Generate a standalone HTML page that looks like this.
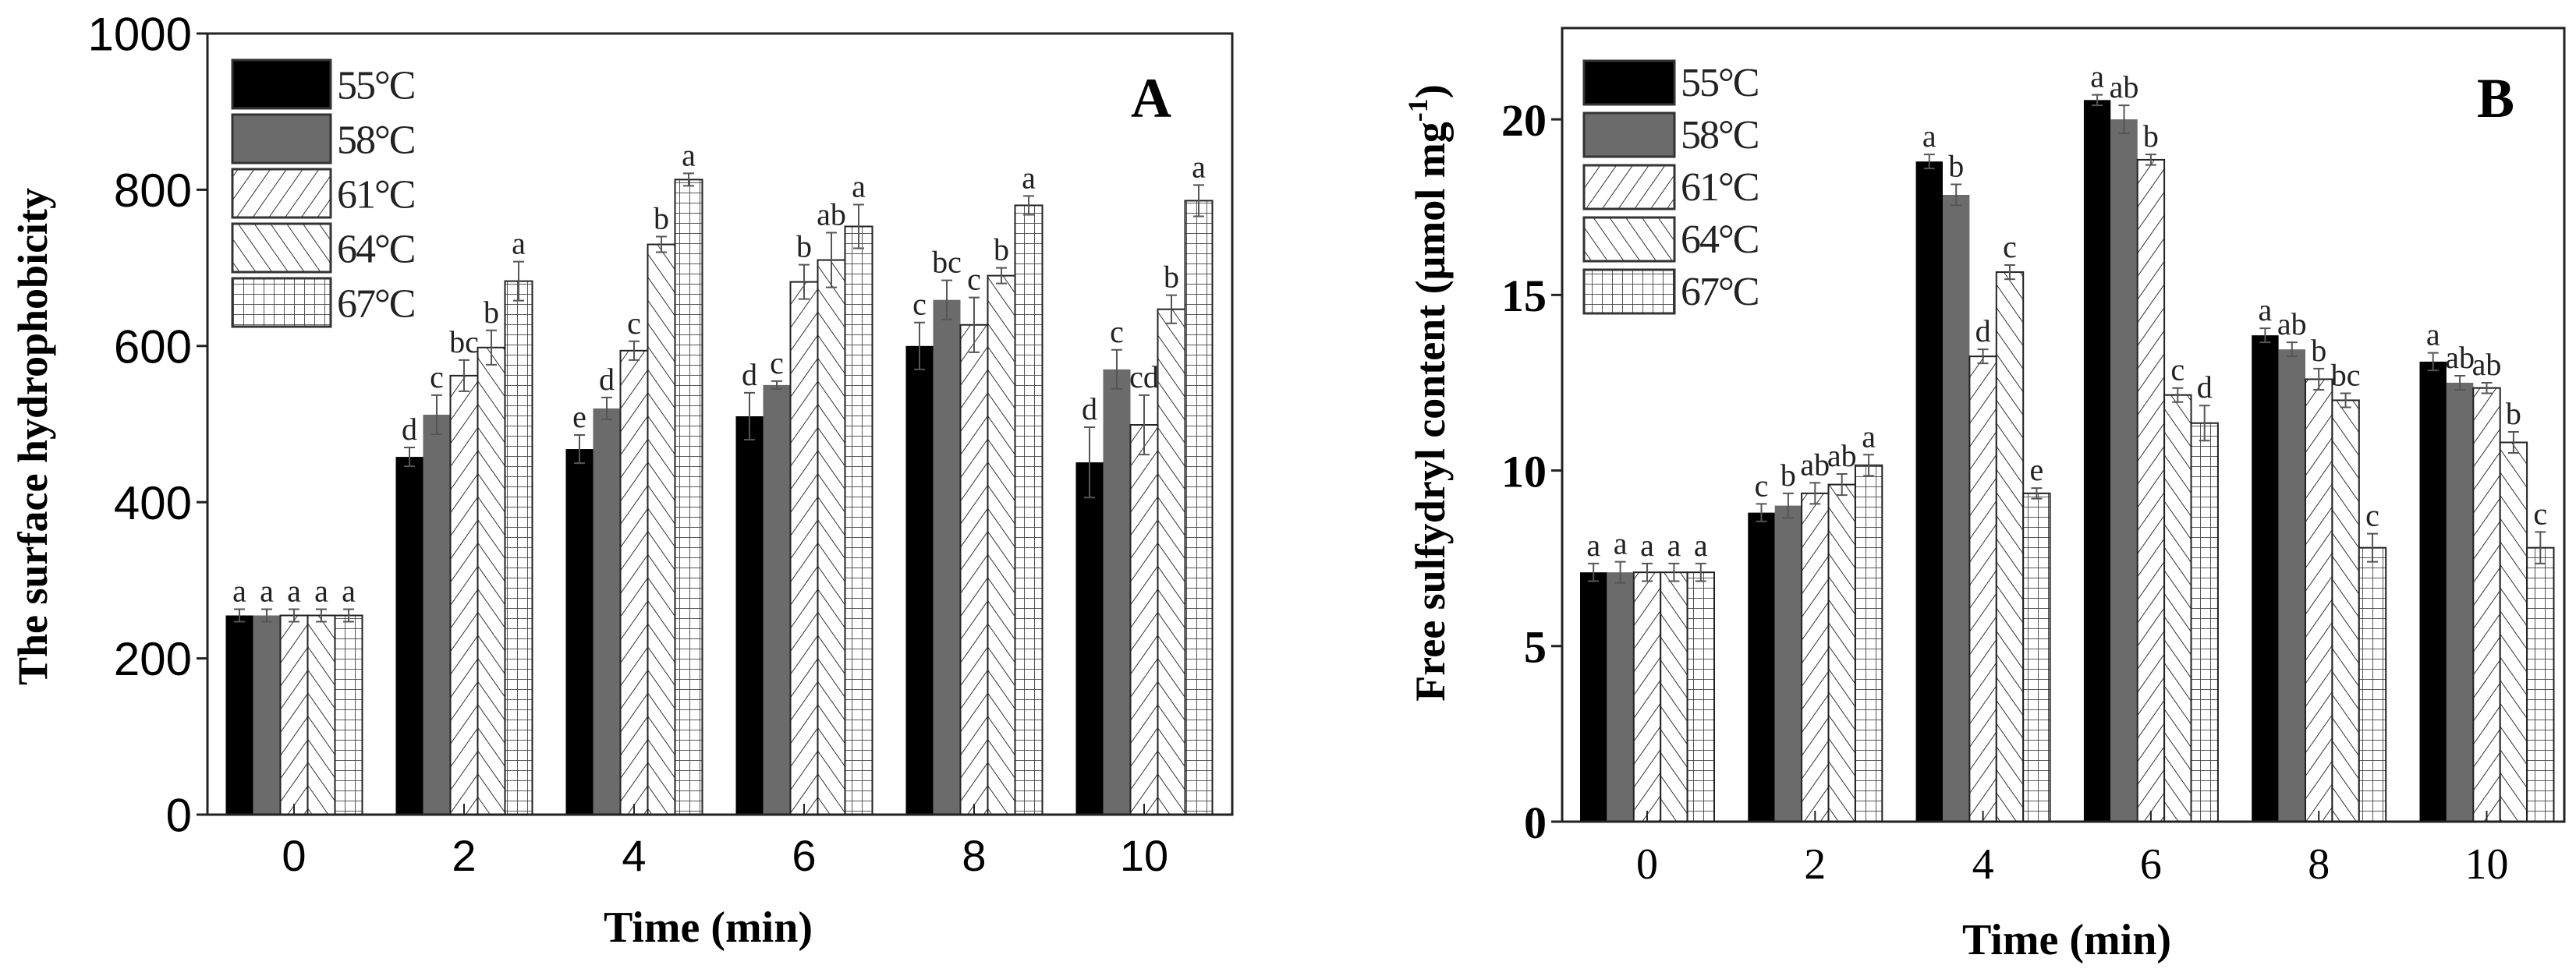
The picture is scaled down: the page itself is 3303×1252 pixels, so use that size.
<!DOCTYPE html>
<html><head><meta charset="utf-8"><style>
html,body{margin:0;padding:0;background:#fff;}
svg{display:block;}
</style></head><body>
<svg id="root" width="3303" height="1252" viewBox="0 0 3303 1252" xmlns="http://www.w3.org/2000/svg">
<defs>
<pattern id="pFwd" patternUnits="userSpaceOnUse" width="17" height="17" patternTransform="rotate(35)"><rect width="17" height="17" fill="#fff"/><line x1="0" y1="0" x2="0" y2="17" stroke="#333" stroke-width="2"/></pattern>
<pattern id="pBack" patternUnits="userSpaceOnUse" width="17" height="17" patternTransform="rotate(-35)"><rect width="17" height="17" fill="#fff"/><line x1="0" y1="0" x2="0" y2="17" stroke="#333" stroke-width="2"/></pattern>
<pattern id="pGrid" patternUnits="userSpaceOnUse" width="13" height="13"><rect width="13" height="13" fill="#fff"/><path d="M0 0H13M0 0V13" stroke="#444" stroke-width="1.8" fill="none"/></pattern>
</defs>
<g id="chartA"></g>
<g id="chartB"></g>
</svg>
<script>
const categories = ["0","2","4","6","8","10"];
const seriesNames = ["55\u00B0C","58\u00B0C","61\u00B0C","64\u00B0C","67\u00B0C"];
const aValues = [
 [255,458,468,510,600,451],
 [255,512,520,550,659,570],
 [255,562,594,682,627,499],
 [255,598,730,710,690,647],
 [255,683,813,753,780,786]];
const aErrors = [
 [8,12,18,30,30,45],
 [8,25,14,5,25,25],
 [8,20,12,22,35,38],
 [8,22,10,35,10,18],
 [8,25,8,28,12,20]];
const aLetters = [
 ["a","d","e","d","c","d"],
 ["a","c","d","c","bc","c"],
 ["a","bc","c","b","c","cd"],
 ["a","b","b","ab","b","b"],
 ["a","a","a","a","a","a"]];
const aTicks = [0,200,400,600,800,1000];
const bValues = [
 [7.1,8.8,18.8,20.55,13.85,13.1],
 [7.1,9.0,17.85,20.0,13.45,12.5],
 [7.1,9.35,13.25,18.85,12.6,12.35],
 [7.1,9.6,15.65,12.15,12.0,10.8],
 [7.1,10.15,9.35,11.35,7.8,7.8]];
const bErrors = [
 [0.25,0.25,0.2,0.15,0.2,0.25],
 [0.3,0.35,0.3,0.4,0.2,0.2],
 [0.25,0.3,0.2,0.15,0.3,0.15],
 [0.25,0.3,0.2,0.2,0.2,0.3],
 [0.25,0.3,0.15,0.5,0.4,0.45]];
const bLetters = [
 ["a","c","a","a","a","a"],
 ["a","b","b","ab","ab","ab"],
 ["a","ab","d","b","b","ab"],
 ["a","ab","c","c","bc","b"],
 ["a","a","e","d","c","c"]];
const bTicks = [0,5,10,15,20];

const NS="http://www.w3.org/2000/svg";
const fills=["#000","#6b6b6b","url(#pFwd)","url(#pBack)","url(#pGrid)"];
function mk(parent,tag,attrs,text){const e=document.createElementNS(NS,tag);for(const k in attrs)e.setAttribute(k,attrs[k]);if(text!==undefined)e.textContent=text;parent.appendChild(e);return e;}

function drawChart(g,cfg){
  const {L,R,T,B,ymax,values,errors,letters,ticks,barW,tickFont,tickWeight,serifTicks}=cfg;
  const xs=i=>cfg.c0+i*cfg.sp;
  const ys=v=>B-(v/ymax)*(B-T);
  for(let s=0;s<values.length;s++){
    for(let i=0;i<categories.length;i++){
      const v=values[s][i], x=xs(i)+(s-2.5)*barW, y=ys(v);
      const r=mk(g,'rect',{x:x,y:y,width:barW,height:B-y,fill:fills[s],stroke:s<2?fills[s]:'#222','stroke-width':s<2?0:2});
      
      
      const cx=x+barW/2, e=errors[s][i];
      const eb=mk(g,'path',{d:`M${cx} ${ys(v+e)}V${ys(v-e)}M${cx-7} ${ys(v+e)}H${cx+7}M${cx-7} ${ys(v-e)}H${cx+7}`,stroke:'#555','stroke-width':2,fill:'none'});
      
      
      const t=mk(g,'text',{x:cx,y:ys(v+e)-10,'text-anchor':'middle','font-family':'Liberation Serif, serif','font-size':40,fill:'#222'},letters[s][i]);
      
      
    }
  }
  const f=mk(g,'rect',{x:L,y:T,width:R-L,height:B-T,fill:'none',stroke:'#222','stroke-width':3});
  
  
  for(const tv of ticks){
    const y=ys(tv);
    const tl=mk(g,'line',{x1:L-14,x2:L,y1:y,y2:y,stroke:'#222','stroke-width':3});
    
    
    const tt=mk(g,'text',{x:L-20,y:y+tickFont*0.36,'text-anchor':'end','font-family':serifTicks?'Liberation Serif, serif':'Liberation Sans, sans-serif','font-weight':tickWeight,'font-size':tickFont,fill:'#000'},String(tv));
    
    
  }
  for(let i=0;i<categories.length;i++){
    const x=xs(i);
    const xl=mk(g,'line',{x1:x,x2:x,y1:B-14,y2:B,stroke:'#222','stroke-width':2});
    
    
    const xt=mk(g,'text',{x:x,y:cfg.xLabY,'text-anchor':'middle','font-family':serifTicks?'Liberation Serif, serif':'Liberation Sans, sans-serif','font-size':cfg.xFont,fill:'#000'},categories[i]);
    
    
  }
  for(let s=0;s<seriesNames.length;s++){
    const y=cfg.legY+s*cfg.legPitch;
    const lb=mk(g,'rect',{x:cfg.legX,y:y,width:cfg.legW,height:cfg.legH,fill:fills[s],stroke:'#333','stroke-width':3});
    
    
    const lt=mk(g,'text',{x:cfg.legX+cfg.legW+8,y:y+cfg.legH*0.8,'font-family':'Liberation Serif, serif','font-size':52,'letter-spacing':-2,fill:'#222'},seriesNames[s]);
    
    
  }
  const pl=mk(g,'text',{x:cfg.panelX,y:150,'text-anchor':'middle','font-family':'Liberation Serif, serif','font-weight':'bold','font-size':72,fill:'#000'},cfg.panel);
  
  
  const xtl=mk(g,'text',{x:cfg.xTitleX,y:cfg.xTitleY,'text-anchor':'middle','font-family':'Liberation Serif, serif','font-weight':'bold','font-size':56,fill:'#000'},'Time (min)');
  
  
  const ytl=mk(g,'text',{x:0,y:0,transform:`translate(${cfg.yTitleX},${cfg.yTitleY}) rotate(-90)`,'text-anchor':'middle','font-family':'Liberation Serif, serif','font-weight':'bold','font-size':54,fill:'#000'});
  
  
  if(cfg.panel==='A'){ytl.textContent='The surface hydrophobicity';}
  else{ytl.textContent='Free sulfydryl content (\u03BCmol mg';mk(ytl,'tspan',{dy:-22,'font-size':36},'-1');mk(ytl,'tspan',{dy:22},')');}
}

drawChart(document.getElementById('chartA'),{L:266,R:1580,T:43,B:1045,c0:377,sp:218,ymax:1000,values:aValues,errors:aErrors,letters:aLetters,ticks:aTicks,barW:35,tickFont:60,tickWeight:'normal',serifTicks:false,xLabY:1117,xFont:56,legX:298,legY:77,legW:126,legH:62,legPitch:70,panel:'A',panelX:1476,xTitleX:908,xTitleY:1208,yTitleX:60,yTitleY:560});
drawChart(document.getElementById('chartB'),{L:2003,R:3288,T:36,B:1054,c0:2112,sp:215.3,ymax:22.6,values:bValues,errors:bErrors,letters:bLetters,ticks:bTicks,barW:34.4,tickFont:58,tickWeight:'bold',serifTicks:true,xLabY:1127,xFont:56,legX:2031,legY:78,legW:116,legH:56,legPitch:67,panel:'B',panelX:3200,xTitleX:2650,xTitleY:1224,yTitleX:1852,yTitleY:504});
</script>
</body></html>
